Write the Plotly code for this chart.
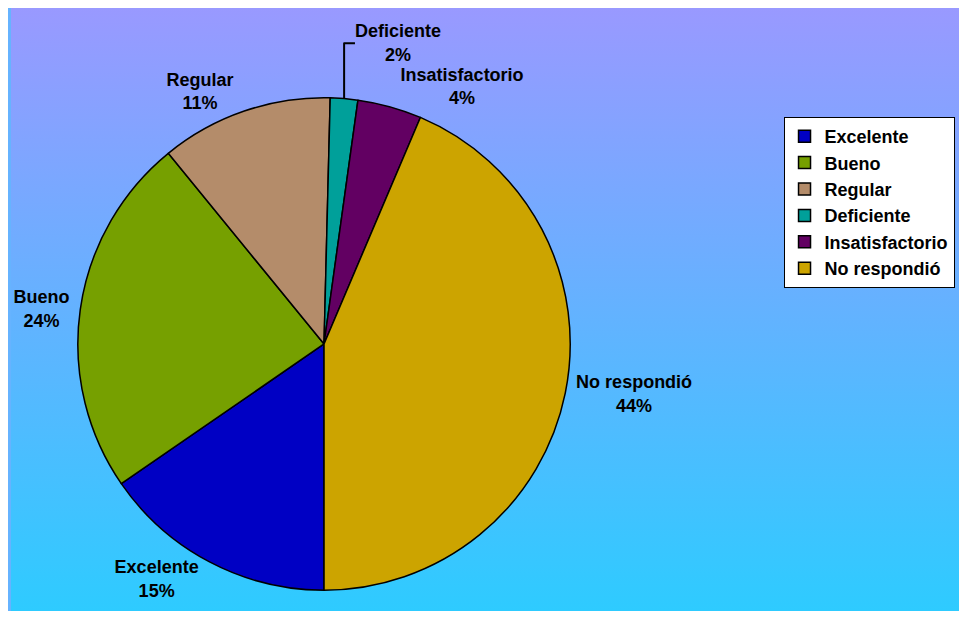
import base64
import plotly.graph_objects as go

categories = ["Excelente", "Bueno", "Regular", "Deficiente", "Insatisfactorio", "No respondió"]
shares = [15.4, 23.7, 11.3, 1.8, 4.2, 43.6]
slice_colors = ["#0000c4", "#76a000", "#b48c6a", "#00a09a", "#620062", "#cca400"]

FONT = dict(family="Arial, 'Liberation Sans', sans-serif", size=18, color="#000000", weight="bold")

# two-colour background gradient, like the Excel chart area fill
_bg_svg = (
    '<svg xmlns="http://www.w3.org/2000/svg" width="10" height="100" viewBox="0 0 10 100" '
    'preserveAspectRatio="none"><defs><linearGradient id="g" x1="0" y1="0" x2="0" y2="1">'
    '<stop offset="0" stop-color="#9999ff"/><stop offset="1" stop-color="#2ecbff"/>'
    '</linearGradient></defs><rect width="10" height="100" fill="url(#g)"/></svg>'
)
BG = "data:image/svg+xml;base64," + base64.b64encode(_bg_svg.encode()).decode()

fig = go.Figure(go.Pie(
    labels=categories,
    values=shares,
    sort=False,
    direction="clockwise",
    rotation=180,
    marker=dict(colors=slice_colors, line=dict(color="#000000", width=1.5)),
    textposition="outside",
    texttemplate="%{label}<br>%{percent:.0%}",
    textfont=FONT,
    hoverinfo="label+percent",
    domain=dict(x=[0.0705, 0.5899], y=[0.0332, 0.8524]),
))

fig.update_layout(
    width=951, height=603,
    margin=dict(l=0, r=0, t=0, b=0),
    paper_bgcolor="#66b3ff",
    font=FONT,
    images=[dict(
        source=BG, xref="paper", yref="paper", x=0, y=1,
        sizex=1, sizey=1, sizing="stretch", layer="below",
        xanchor="left", yanchor="top",
    )],
    legend=dict(
        x=0.8149, y=0.8192, xanchor="left", yanchor="top",
        bgcolor="#ffffff", bordercolor="#000000", borderwidth=1,
        font=FONT,
        itemwidth=30,
    ),
)

fig.write_html("out.html")
